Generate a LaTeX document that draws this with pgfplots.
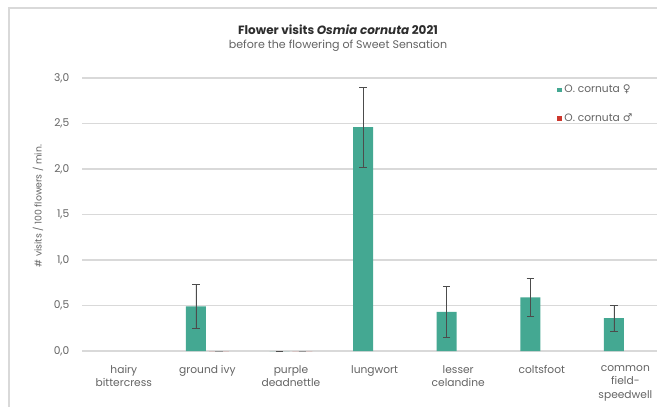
\documentclass[border=0pt]{standalone}
\usepackage{fontspec}
\setmainfont{Poppins}
\newfontfamily\symfont{DejaVu Sans}
\usepackage{pgfplots}
\pgfplotsset{compat=1.18}
\definecolor{barG}{RGB}{68,168,146}
\definecolor{barR}{RGB}{205,55,45}
\definecolor{gridc}{RGB}{217,217,217}
\definecolor{txt}{RGB}{100,100,100}
\definecolor{ttl}{RGB}{45,45,45}
\begin{document}
\begin{tikzpicture}
\useasboundingbox (0,0) rectangle (492.75pt,305.25pt);
\clip (0,0) rectangle (492.75pt,305.25pt);
\fill[white] (0,0) rectangle (492.75pt,305.25pt);
\draw[gridc, line width=1.2pt] (6.75pt,-10pt) -- (6.75pt,299.25pt) -- (520pt,299.25pt);
\node[font=\bfseries\fontsize{9}{11}\selectfont, text=ttl] at (253.5pt,282.75pt) {Flower visits \textit{Osmia cornuta} 2021};
\node[font=\fontsize{8.3}{10}\selectfont, text=txt] at (253.5pt,271pt) {before the flowering of Sweet Sensation};
\begin{axis}[
  at={(61.5pt,42pt)}, anchor=south west,
  width=431.25pt, height=204.75pt, scale only axis,
  xmin=-0.5, xmax=6.378, ymin=0, ymax=3,
  ytick={0,0.5,1,1.5,2,2.5,3},
  ymajorgrids, grid style={gridc, line width=0.8pt},
  axis line style={draw=none}, major tick style={draw=none},
  xtick={0,1,2,3,4,5,6},
  xticklabels={hairy\\bittercress, ground ivy, purple\\deadnettle, lungwort, lesser\\celandine, coltsfoot, common\\field-\\speedwell},
  xticklabel style={align=center, font=\fontsize{8}{10}\selectfont, text=txt, anchor=north, yshift=-3pt},
  yticklabel style={font=\fontsize{8}{10}\selectfont, text=txt, xshift=-6pt},
  /pgf/number format/.cd, use comma, fixed, fixed zerofill, precision=1, assume math mode=true,
  /pgfplots/.cd,
  ylabel={\# visits / 100 flowers / min.},
  ylabel style={font=\fontsize{7}{9}\selectfont, text=txt, at={(axis description cs:-0.0765,0.531)}, anchor=center},
  ybar, bar width=15pt,
  legend image code/.code={\fill[#1] (0pt,-1.7pt) rectangle (3.4pt,1.7pt);},
  legend style={at={(0.826,0.985)}, anchor=north west, draw=none, fill=none, font=\fontsize{8}{10}\selectfont, text=txt, row sep=10pt, inner sep=0pt},
  legend cell align=left,
]
\addplot[fill=barG, draw=none, bar shift=-8.6pt,
  error bars/.cd, y dir=both, y explicit,
  error bar style={black!70, line width=0.6pt},
  error mark options={rotate=90, mark size=2.8pt, black!70, line width=0.6pt}]
  coordinates {(1,0.49) +- (0,0.24) (2,0) +- (0,0) (3,2.46) +- (0,0.44) (4,0.43) +- (0,0.28) (5,0.59) +- (0,0.21) (6,0.36) +- (0,0.14)};
\addlegendentry{O. cornuta {\symfont ♀}}
\addplot[fill=barR, draw=none, bar shift=8.6pt,
  error bars/.cd, y dir=both, y explicit,
  error bar style={black!40, line width=0.6pt},
  error mark options={rotate=90, mark size=2.8pt, black!40, line width=0.6pt}]
  coordinates {(1,0) +- (0,0) (2,0) +- (0,0)};
\addlegendentry{O. cornuta {\symfont ♂}}
\end{axis}
\end{tikzpicture}
\end{document}
